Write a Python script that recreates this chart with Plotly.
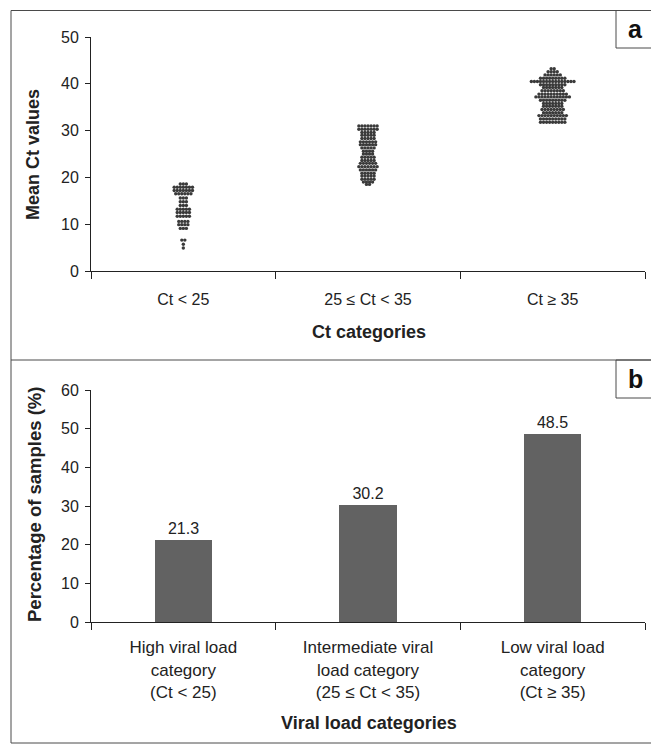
import plotly.graph_objects as go

# The page body has an 8 px default margin, so the figure is drawn 8 px in from the top-left.
OFF = 8
W, H = 659 - OFF, 744 - OFF

# ---------------- Panel a data (mean Ct values, rows of the dot plot) ----------------
cat_a = ["Ct < 25", "25 ≤ Ct < 35", "Ct ≥ 35"]

high_load_ct = [18.6, 17.9, 17.2, 16.5, 15.6, 14.8, 14.0, 13.2, 12.5, 11.7, 10.6, 9.9, 9.1, 6.6, 5.7, 4.9]
high_load_n = [3, 7, 7, 6, 3, 3, 3, 5, 5, 5, 4, 4, 3, 2, 1, 1]

mid_load_ct = [31.0, 30.3, 29.6, 29.0, 28.3, 27.6, 27.0, 26.3, 25.6, 25.0, 24.3, 23.6, 23.0,
               22.3, 21.6, 20.9, 20.3, 19.6, 19.0, 18.5]
mid_load_n = [7, 7, 5, 5, 5, 6, 6, 5, 4, 4, 5, 5, 6, 7, 6, 5, 5, 5, 4, 2]

low_load_ct = [43.2, 42.6, 41.9, 41.2, 40.5, 39.8, 39.2, 38.5, 37.8, 37.2, 36.5, 35.8, 35.2,
               34.5, 33.8, 33.2, 32.5, 31.8]
low_load_n = [2, 4, 6, 9, 15, 9, 7, 8, 10, 12, 9, 7, 7, 8, 7, 10, 9, 9]

# ---------------- Panel b data ----------------
cat_b = ["High viral load<br>category<br>(Ct < 25)",
         "Intermediate viral<br>load category<br>(25 ≤ Ct < 35)",
         "Low viral load<br>category<br>(Ct ≥ 35)"]
pct_samples = [21.3, 30.2, 48.5]

FONT = "Liberation Sans Narrow, Arial Narrow, Liberation Sans, sans-serif"
AX = "#222222"
BORDER = "#4a4a4a"


def px_x(p):
    return (p - OFF) / W


def px_y(p):
    return 1 - (p - OFF) / H


# beeswarm layout: dots of equal value side by side around the category centre
DX = 0.0165
xs, ys = [], []
for k, (vals, counts) in enumerate([(high_load_ct, high_load_n),
                                    (mid_load_ct, mid_load_n),
                                    (low_load_ct, low_load_n)]):
    for v, n in zip(vals, counts):
        for i in range(n):
            xs.append(k + (i - (n - 1) / 2) * DX)
            ys.append(v)

fig = go.Figure()
fig.add_trace(go.Scatter(x=xs, y=ys, mode="markers", xaxis="x", yaxis="y",
                         marker=dict(size=3.4, color="#3a3a3a", line=dict(width=0)),
                         hoverinfo="skip", showlegend=False))

fig.add_trace(go.Bar(x=[0, 1, 2], y=pct_samples, xaxis="x2", yaxis="y2", width=0.31,
                     marker=dict(color="#626262", line=dict(width=0)),
                     text=[f"{v:.1f}" for v in pct_samples], textposition="outside",
                     textfont=dict(size=16, color=AX, family=FONT), cliponaxis=False,
                     hoverinfo="skip", showlegend=False))

xdom = [px_x(91), px_x(645)]
common_x = dict(range=[-0.5, 2.5], domain=xdom, showline=True, linecolor=AX, linewidth=1,
                showgrid=False, zeroline=False, ticks="", tickvals=[0, 1, 2], automargin=False,
                minor=dict(tickmode="array", tickvals=[-0.5, 0.5, 1.5, 2.5], ticks="outside",
                           ticklen=7, tickcolor=AX, tickwidth=1, showgrid=False),
                fixedrange=True)
common_y = dict(showline=True, linecolor=AX, linewidth=1, showgrid=False, zeroline=False,
                ticks="outside", ticklen=5, tickcolor=AX, tickwidth=1, dtick=10, automargin=False,
                ticklabelstandoff=3,
                tickfont=dict(size=16, color=AX, family=FONT), fixedrange=True)

fig.update_layout(
    width=W, height=H, margin=dict(l=0, r=0, t=0, b=0, autoexpand=False),
    paper_bgcolor="white", plot_bgcolor="white",
    font=dict(family=FONT, color=AX),
    xaxis=dict(common_x, anchor="y", ticktext=cat_a, ticklabelstandoff=14,
               tickfont=dict(size=16, color=AX, family=FONT)),
    yaxis=dict(common_y, anchor="x", range=[0, 50], domain=[px_y(271), px_y(37)]),
    xaxis2=dict(common_x, anchor="y2", ticktext=cat_b, ticklabelstandoff=10,
                tickfont=dict(size=17, color=AX, family=FONT)),
    yaxis2=dict(common_y, anchor="x2", range=[0, 60], domain=[px_y(622), px_y(390)]),
    bargap=0,
)

# frames
shapes = [
    dict(type="rect", xref="paper", yref="paper", x0=px_x(11), x1=px_x(654),
         y0=px_y(743), y1=px_y(10.5), line=dict(color=BORDER, width=1)),
    dict(type="line", xref="paper", yref="paper", x0=px_x(11), x1=px_x(654),
         y0=px_y(360), y1=px_y(360), line=dict(color=BORDER, width=1)),
    dict(type="rect", xref="paper", yref="paper", x0=px_x(616), x1=px_x(654),
         y0=px_y(48), y1=px_y(10.5), line=dict(color=BORDER, width=1)),
    dict(type="rect", xref="paper", yref="paper", x0=px_x(616), x1=px_x(654),
         y0=px_y(398), y1=px_y(360), line=dict(color=BORDER, width=1)),
]
fig.update_layout(shapes=shapes)

bold = dict(family=FONT, size=18, color=AX)
ann = [
    dict(text="<b>Mean Ct values</b>", x=px_x(33), y=px_y(155), textangle=-90, font=bold),
    dict(text="<b>Ct categories</b>", x=px_x(369), y=px_y(332), font=bold),
    dict(text="<b>Percentage of samples (%)</b>", x=px_x(34), y=px_y(505), textangle=-90,
         font=dict(family=FONT, size=18.5, color=AX)),
    dict(text="<b>Viral load categories</b>", x=px_x(369), y=px_y(723), font=bold),
    dict(text="<b>a</b>", x=px_x(635), y=px_y(29), font=dict(family=FONT, size=25, color="#111")),
    dict(text="<b>b</b>", x=px_x(635), y=px_y(379), font=dict(family=FONT, size=25, color="#111")),
]
for a in ann:
    a.update(xref="paper", yref="paper", showarrow=False, xanchor="center", yanchor="middle")
fig.update_layout(annotations=ann)

fig.write_html("out.html", config={"displayModeBar": False})
